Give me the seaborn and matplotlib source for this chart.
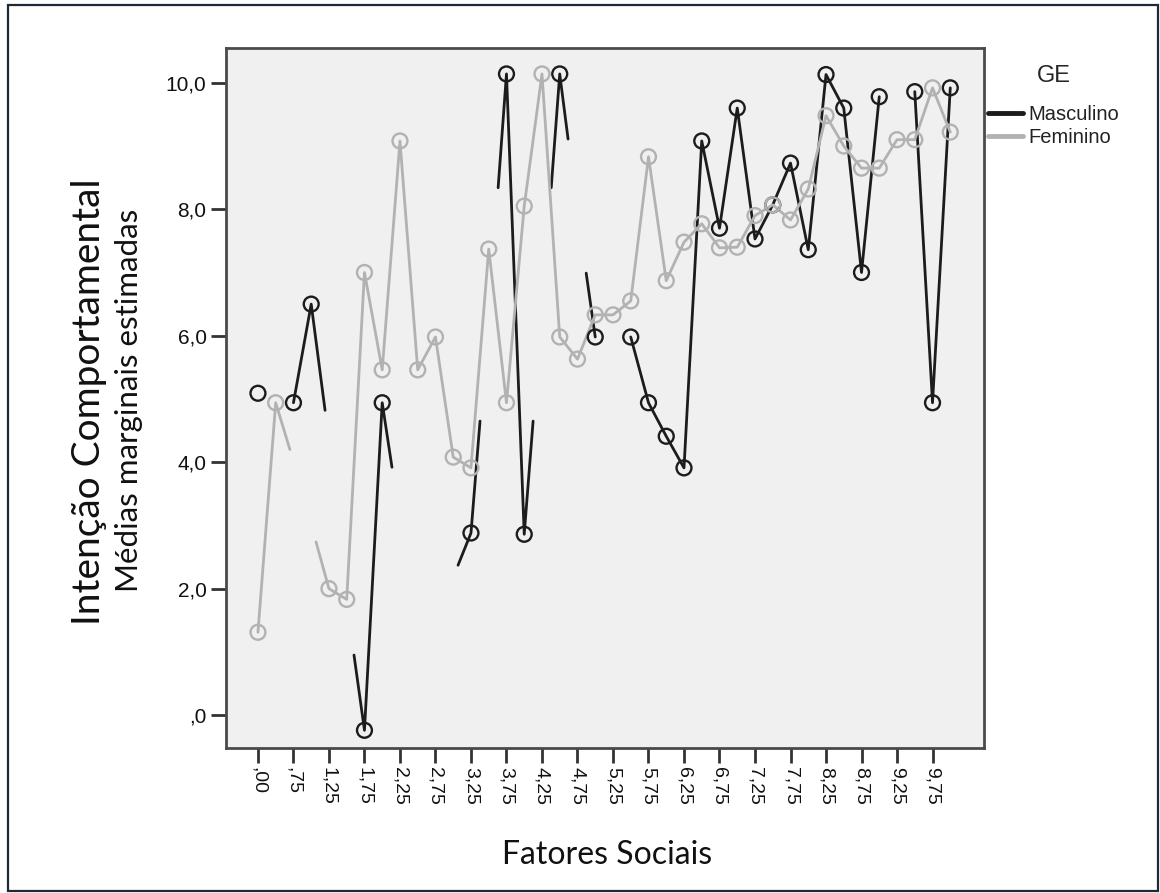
import numpy as np
import pandas as pd
import matplotlib
matplotlib.use("Agg")
import matplotlib.pyplot as plt
from matplotlib.patches import Rectangle
import seaborn as sns

# Observed levels of "Fatores Sociais"
fatores = [0.00, 0.50, 0.75, 1.00, 1.25, 1.50, 1.75, 2.00, 2.25, 2.50,
           2.75, 3.00, 3.25, 3.50, 3.75, 4.00, 4.25, 4.50, 4.75, 5.00,
           5.25, 5.50, 5.75, 6.00, 6.25, 6.50, 6.75, 7.00, 7.25, 7.50,
           7.75, 8.00, 8.25, 8.50, 8.75, 9.00, 9.25, 9.50, 9.75, 10.00]

nan = np.nan
# Estimated marginal means per level (nan = not estimable)
masculino = [5.09, nan, 4.94, 6.50, nan, nan, -0.24, 4.94, nan, nan,
             nan, nan, 2.88, nan, 10.14, 2.86, nan, 10.14, nan, 5.98,
             nan, 5.98, 4.94, 4.41, 3.91, 9.08, 7.70, 9.60, 7.53, 8.07,
             8.73, 7.36, 10.13, 9.60, 7.00, 9.78, nan, 9.86, 4.94, 9.92]
feminino = [1.31, 4.94, nan, nan, 2.00, 1.83, 7.00, 5.46, 9.08, 5.46,
            5.98, 4.08, 3.91, 7.37, 4.94, 8.05, 10.14, 5.98, 5.63, 6.33,
            6.33, 6.55, 8.83, 6.87, 7.48, 7.77, 7.39, 7.40, 7.90, 8.07,
            7.83, 8.32, 9.48, 9.00, 8.65, 8.65, 9.10, 9.10, 9.92, 9.22]

# Partial connector segments next to non-estimable cells
# (position on the category axis, value at the free end)
masc_stub_pos = [3.78, 5.41, 7.55, 11.27, 12.51, 13.53, 15.50, 16.52, 17.47, 18.49]
masc_stub_val = [4.82, 0.95, 3.92, 2.37, 4.65, 8.34, 4.65, 8.34, 9.11, 6.99]
fem_stub_pos = [1.80, 3.27]
fem_stub_val = [4.20, 2.74]

groups = ["Masculino", "Feminino"]
palette = {"Masculino": "#1c1c1c", "Feminino": "#b2b2b2"}


def build_paths(name, vals, stub_pos, stub_val):
    vals = np.asarray(vals, dtype=float)
    valid = ~np.isnan(vals)
    lead, trail = {}, {}
    for p, v in zip(stub_pos, stub_val):
        lo, hi = int(np.floor(p)), int(np.ceil(p))
        if valid[lo] and (hi >= len(vals) or not valid[hi] or p - lo < hi - p):
            trail[lo] = (p, v)
        else:
            lead[hi] = (p, v)
    rows, run, i = [], 0, 0
    while i < len(vals):
        if not valid[i]:
            i += 1
            continue
        j = i
        while j + 1 < len(vals) and valid[j + 1]:
            j += 1
        pts = []
        if i in lead:
            pts.append(lead[i])
        pts += [(k, vals[k]) for k in range(i, j + 1)]
        if j in trail:
            pts.append(trail[j])
        for p, v in pts:
            rows.append({"pos": p, "val": v, "GE": name, "run": f"{name}{run}"})
        run += 1
        i = j + 1
    return rows


paths = pd.DataFrame(build_paths("Masculino", masculino, masc_stub_pos, masc_stub_val)
                     + build_paths("Feminino", feminino, fem_stub_pos, fem_stub_val))
points = pd.DataFrame({
    "pos": list(range(len(fatores))) * 2,
    "val": masculino + feminino,
    "GE": ["Masculino"] * len(fatores) + ["Feminino"] * len(fatores),
}).dropna()

sns.set_style("ticks")
plt.rcParams["font.family"] = ["Liberation Sans", "DejaVu Sans"]

fig = plt.figure(figsize=(11.6, 8.93), dpi=100)
ax = fig.add_axes([226 / 1160, 1 - 748 / 893, (984 - 226) / 1160, (748 - 48) / 893])
ax.set_facecolor("#f0f0f0")

sns.lineplot(data=paths, x="pos", y="val", hue="GE", hue_order=groups,
             units="run", estimator=None, sort=False, palette=palette,
             linewidth=2.0, ax=ax)
# Open circle markers; the Feminino layer sits above the Masculino one
for z, g in enumerate(groups):
    sns.scatterplot(data=points[points["GE"] == g], x="pos", y="val",
                    color=palette[g], s=115, linewidth=1.7, legend=False,
                    ax=ax, zorder=3 + z)
for coll in ax.collections:
    fc = coll.get_facecolors()
    coll.set_edgecolors(fc)
    coll.set_facecolors("none")


def fmt(v, d):
    s = f"{v:.{d}f}".replace(".", ",")
    return s[1:] if s.startswith("0,") else s


xt = list(range(0, len(fatores) - 1, 2))
ax.set_xticks(xt)
ax.set_xticklabels([fmt(fatores[i], 2) for i in xt], rotation=270,
                   ha="center", va="top", fontsize=14, color="#111111")
yt = [0, 2, 4, 6, 8, 10]
ax.set_yticks(yt)
ax.set_yticklabels([fmt(v, 1) for v in yt], fontsize=15, color="#111111")
ax.set_xlim(-1.8, 40.9)
ax.set_ylim(-0.52, 10.55)
ax.tick_params(axis="both", length=11, width=2, color="#333333", pad=3)
ax.set_xlabel("")
ax.set_ylabel("")
for sp in ax.spines.values():
    sp.set_visible(True)
    sp.set_color("#4a4a4a")
    sp.set_linewidth(2)

handles, labels = ax.get_legend_handles_labels()
if ax.legend_:
    ax.legend_.remove()
leg = ax.legend(handles, labels, title="GE", loc="upper left",
                bbox_to_anchor=(988 / 1160, 1 - 65 / 893), bbox_transform=fig.transFigure,
                frameon=False, fontsize=14.5, title_fontsize=17, handlelength=1.75,
                handletextpad=0.25, labelspacing=0.18, borderpad=0, borderaxespad=0)
leg._legend_box.sep = 13
for h in leg.get_lines():
    h.set_linewidth(3.5)
for t in leg.get_texts():
    t.set_color("#222222")

fig.text(607 / 1160, 1 - 855 / 893, "Fatores Sociais", ha="center", va="center",
         fontsize=23, family="Lato", color="#111111")
fig.text(89 / 1160, 1 - 402 / 893, "Intenção Comportamental", ha="center", va="center",
         rotation=90, fontsize=28, family="Lato", color="#111111")
fig.text(129 / 1160, 1 - 400 / 893, "Médias marginais estimadas", ha="center", va="center",
         rotation=90, fontsize=22.5, family="Lato", color="#111111")

fig.add_artist(Rectangle((8 / 1160, 2 / 893), (1158 - 8) / 1160, (888 - 2) / 893,
                         transform=fig.transFigure, fill=False, ec="#1f2a36", lw=1.6))

fig.savefig("out.png", dpi=100, facecolor="white")
